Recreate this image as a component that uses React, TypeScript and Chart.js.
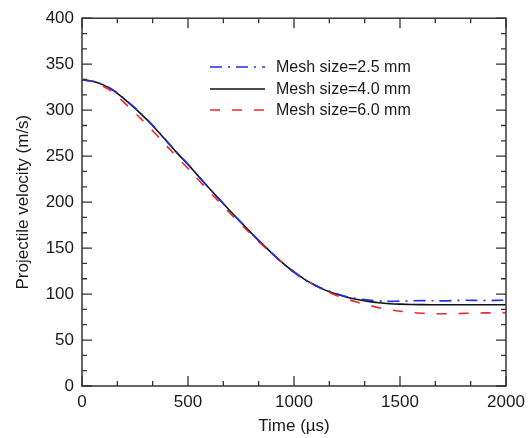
import React, { useEffect, useRef } from "react";
import { Chart, registerables } from "chart.js";

Chart.register(...registerables);

// ---- data ----
const times = [
  0, 50, 100, 150, 200, 250, 300, 350, 400, 450, 500, 550, 600, 650, 700, 750,
  800, 850, 900, 950, 1000, 1050, 1100, 1150, 1200, 1250, 1300, 1350, 1400,
  1450, 1500, 1600, 1700, 1800, 1900, 2000,
];
const mesh25 = [
  333, 331.5, 327.5, 321.5, 312.5, 302.5, 291.5, 279.5, 266.5, 253.5, 241, 228,
  215, 202.5, 190, 178, 166, 154.5, 143.5, 133, 123.5, 115.5, 109.5, 104.5,
  100.5, 97, 95, 93.5, 92.5, 92, 92.3, 92.8, 92.6, 93.2, 93, 93.3,
];
const mesh40 = [
  333, 331.5, 327.5, 321, 312, 302, 291, 279, 266, 253, 241, 228, 215, 202.5,
  190, 178, 166, 154.5, 143.5, 133, 124, 116, 109.5, 104, 100, 96.5, 94, 92,
  90.5, 89.5, 89, 88.5, 88.3, 88.3, 88.3, 88.3,
];
const mesh60 = [
  333, 331, 326, 318.5, 308, 297, 285.5, 273.5, 261, 248.5, 236.5, 224, 211.5,
  199.5, 187.5, 176, 164.5, 153.5, 143, 133.5, 124.5, 116.5, 109.5, 103.5,
  98.5, 94.5, 91, 88, 85.2, 83, 81.3, 79.2, 78.6, 79, 79.5, 79.7,
];
const seriesLabels = [
  "Mesh size=2.5 mm",
  "Mesh size=4.0 mm",
  "Mesh size=6.0 mm",
];
const xMajorTicks = [0, 500, 1000, 1500, 2000];
const yMajorTicks = [0, 50, 100, 150, 200, 250, 300, 350, 400];
const xTitle = "Time (\u00b5s)";
const yTitle = "Projectile velocity (m/s)";

// ---- styles ----
const FONT = "'Liberation Sans', Arial, sans-serif";
const TEXT = "#1a1a1a";
const AXIS = "#333333";
const BLUE = "#1f2fe8";
const BLACK = "#111111";
const RED = "#ee2a2a";
const BLUE_DASH = [12, 6, 2, 6];
const RED_DASH = [10, 12];

const toPts = (vals: number[]) => times.map((t, i) => ({ x: t, y: vals[i] }));

const framePlugin = {
  id: "frame",
  afterDatasetsDraw(chart: any) {
    const { ctx, chartArea: a, scales } = chart;
    const xs = scales.x;
    const ys = scales.y;
    ctx.save();
    ctx.strokeStyle = AXIS;
    ctx.lineWidth = 1.5;
    ctx.setLineDash([]);
    ctx.strokeRect(a.left, a.top, a.right - a.left, a.bottom - a.top);
    ctx.lineWidth = 1.3;
    const sub = 3;
    for (let i = 0; i < xMajorTicks.length; i++) {
      const v = xMajorTicks[i];
      const px = xs.getPixelForValue(v);
      ctx.beginPath();
      ctx.moveTo(px, a.bottom);
      ctx.lineTo(px, a.bottom - 10);
      ctx.moveTo(px, a.top);
      ctx.lineTo(px, a.top + 10);
      ctx.stroke();
      if (i < xMajorTicks.length - 1) {
        const step = (xMajorTicks[i + 1] - v) / sub;
        for (let k = 1; k < sub; k++) {
          const mx = xs.getPixelForValue(v + step * k);
          ctx.beginPath();
          ctx.moveTo(mx, a.bottom);
          ctx.lineTo(mx, a.bottom - 5);
          ctx.moveTo(mx, a.top);
          ctx.lineTo(mx, a.top + 5);
          ctx.stroke();
        }
      }
    }
    for (let i = 0; i < yMajorTicks.length; i++) {
      const v = yMajorTicks[i];
      const py = ys.getPixelForValue(v);
      ctx.beginPath();
      ctx.moveTo(a.left, py);
      ctx.lineTo(a.left + 10, py);
      ctx.moveTo(a.right, py);
      ctx.lineTo(a.right - 10, py);
      ctx.stroke();
      if (i < yMajorTicks.length - 1) {
        const step = (yMajorTicks[i + 1] - v) / sub;
        for (let k = 1; k < sub; k++) {
          const my = ys.getPixelForValue(v + step * k);
          ctx.beginPath();
          ctx.moveTo(a.left, my);
          ctx.lineTo(a.left + 5, my);
          ctx.moveTo(a.right, my);
          ctx.lineTo(a.right - 5, my);
          ctx.stroke();
        }
      }
    }
    // legend
    const styles = [
      { color: BLUE, dash: BLUE_DASH },
      { color: BLACK, dash: [] as number[] },
      { color: RED, dash: RED_DASH },
    ];
    const rows = [67, 89, 110];
    ctx.font = `16px ${FONT}`;
    ctx.textBaseline = "middle";
    ctx.textAlign = "left";
    for (let i = 0; i < seriesLabels.length; i++) {
      const y = rows[i];
      ctx.strokeStyle = styles[i].color;
      ctx.lineWidth = 1.6;
      ctx.setLineDash(styles[i].dash);
      ctx.beginPath();
      ctx.moveTo(210, y);
      ctx.lineTo(265, y);
      ctx.stroke();
      ctx.setLineDash([]);
      ctx.fillStyle = TEXT;
      ctx.fillText(seriesLabels[i], 276, y + 1);
    }
    ctx.restore();
  },
};

export default function App() {
  const ref = useRef<HTMLCanvasElement | null>(null);
  useEffect(() => {
    document.body.style.margin = "0";
    const canvas = ref.current;
    if (!canvas) return;
    const font = { family: FONT, size: 17 };
    const chart = new Chart(canvas, {
      type: "line",
      data: {
        datasets: [
          {
            label: seriesLabels[0],
            data: toPts(mesh25),
            borderColor: BLUE,
            borderWidth: 1.6,
            borderDash: BLUE_DASH,
            pointRadius: 0,
            tension: 0.4,
            fill: false,
            order: 0,
          },
          {
            label: seriesLabels[1],
            data: toPts(mesh40),
            borderColor: BLACK,
            borderWidth: 1.6,
            pointRadius: 0,
            tension: 0.4,
            fill: false,
            order: 2,
          },
          {
            label: seriesLabels[2],
            data: toPts(mesh60),
            borderColor: RED,
            borderWidth: 1.6,
            borderDash: RED_DASH,
            pointRadius: 0,
            tension: 0.4,
            fill: false,
            order: 1,
          },
        ],
      },
      options: {
        responsive: false,
        animation: false,
        devicePixelRatio: 1,
        layout: { padding: { left: 0, right: 26, top: 13, bottom: 0 } },
        plugins: {
          legend: { display: false },
          tooltip: { enabled: false },
        },
        scales: {
          x: {
            type: "linear",
            min: 0,
            max: 2000,
            afterBuildTicks: (s: any) => {
              s.ticks = xMajorTicks.map((v) => ({ value: v }));
            },
            ticks: {
              padding: 6,
              font,
              color: TEXT,
              maxRotation: 0,
              autoSkip: false,
              callback: (v: any) => String(v),
            },
            grid: { display: false, drawTicks: false },
            border: { display: false },
            title: {
              display: true,
              text: xTitle,
              font,
              color: TEXT,
              padding: { top: 0, bottom: 1 },
            },
            afterFit: (s: any) => {
              s.height = 52;
            },
          },
          y: {
            type: "linear",
            min: 0,
            max: 400,
            afterBuildTicks: (s: any) => {
              s.ticks = yMajorTicks.map((v) => ({ value: v }));
            },
            ticks: {
              padding: 8,
              font,
              color: TEXT,
              autoSkip: false,
              callback: (v: any) => String(v),
            },
            grid: { display: false, drawTicks: false },
            border: { display: false },
            title: {
              display: true,
              text: yTitle,
              font,
              color: TEXT,
              padding: { top: 13, bottom: 0 },
            },
            afterFit: (s: any) => {
              s.width = 82;
            },
          },
        },
      },
      plugins: [framePlugin],
    } as any);
    return () => chart.destroy();
  }, []);
  return (
    <div style={{ width: 532, height: 438, background: "#fff" }}>
      <canvas
        ref={ref}
        width={532}
        height={438}
        style={{ display: "block", width: 532, height: 438 }}
      />
    </div>
  );
}
